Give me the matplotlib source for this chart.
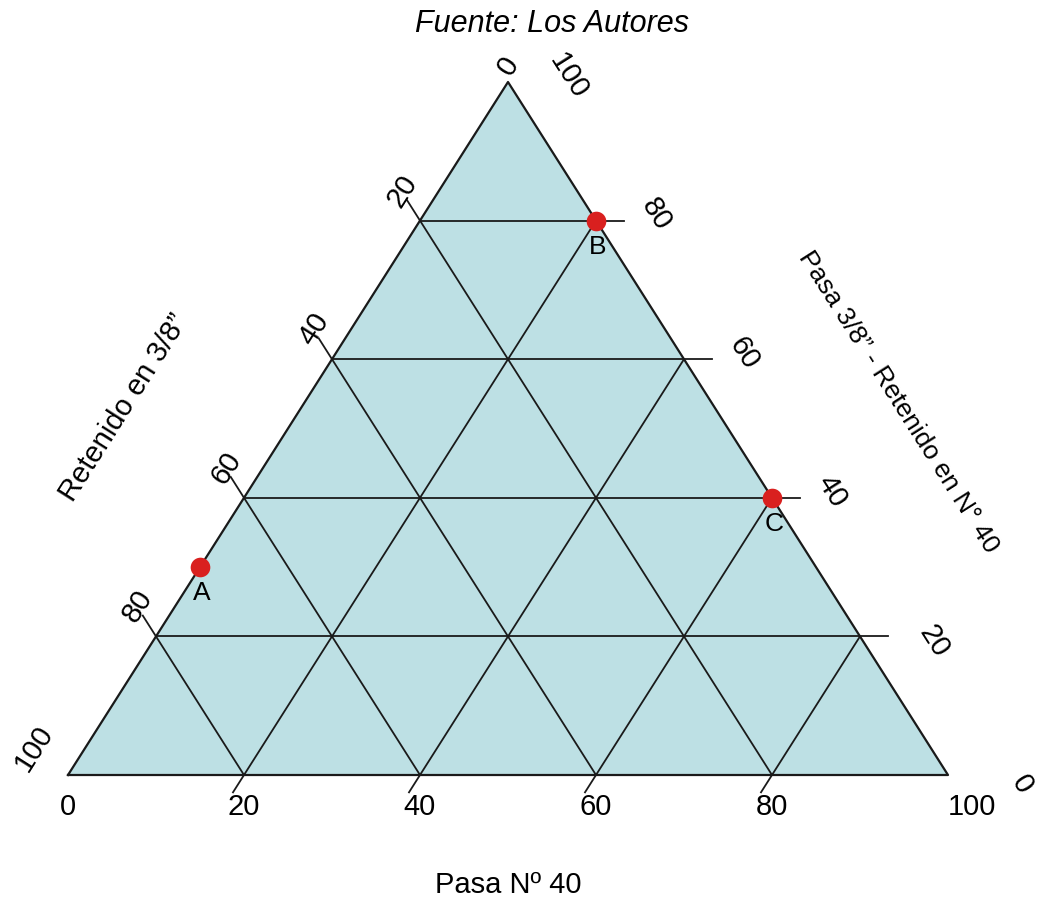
import numpy as np
import matplotlib.pyplot as plt

plt.rcParams['font.family'] = ['Liberation Sans', 'DejaVu Sans']

# ternary data: a = Pasa N 40, b = Pasa 3/8" - Retenido N 40, c = Retenido 3/8"
point_names = ['A', 'B', 'C']
pasa_n40 = [0, 20, 60]
pasa38_ret40 = [30, 80, 40]
retenido38 = [70, 0, 0]

grid_vals = [20, 40, 60, 80]
tick_vals = [0, 20, 40, 60, 80, 100]

fill_col = '#bde0e4'
line_col = '#1a1a1a'
dot_col = '#d9201f'


def to_xy(a, b):
    # cartesian in axes data units (triangle squashed by the axes box)
    a = np.asarray(a, dtype=float)
    b = np.asarray(b, dtype=float)
    return a + b / 2.0, b


fig = plt.figure(figsize=(10.4, 9.24), dpi=100)
ax = fig.add_axes([68 / 1040, 149 / 924, 880 / 1040, 693 / 924])
ax.set_xlim(0, 100)
ax.set_ylim(0, 100)
ax.axis('off')

# triangle
tx, ty = to_xy([0, 100, 0, 0], [0, 0, 100, 0])
ax.fill(tx, ty, color=fill_col, zorder=1, clip_on=False)
ax.plot(tx, ty, color=line_col, lw=1.6, zorder=3, clip_on=False)

lw = 1.3
for v in grid_vals:
    # constant b (horizontal), stub past right edge
    x0, y0 = to_xy(0, v)
    x1, y1 = to_xy(100 - v, v)
    ax.plot([x0, x1 + 3.2], [y0, y1], color=line_col, lw=lw, zorder=2, clip_on=False)
    # constant c (parallel to right edge), stub past left edge
    s = 100 - v
    xa, ya = to_xy(-3, s + 3)
    xb, yb = to_xy(s, 0)
    ax.plot([xa, xb], [ya, yb], color=line_col, lw=lw, zorder=2, clip_on=False)
    # constant a (parallel to left edge), stub below bottom
    xb, yb = to_xy(v, 100 - v)
    ax.plot([v - 1.25, xb], [-2.5, yb], color=line_col, lw=lw, zorder=2, clip_on=False)

ang = np.degrees(np.arctan2(693, 440))
fs = 21

# bottom ticks (Pasa N 40)
for v in tick_vals:
    x, y = to_xy(v, 0)
    dx = 24 if v == 100 else 0
    ax.annotate(str(v), (x, y), xytext=(dx, -32), textcoords='offset pixels',
                ha='center', va='center', fontsize=fs, annotation_clip=False)

# right ticks (Pasa 3/8 - Retenido N 40)
for v in tick_vals:
    x, y = to_xy(100 - v, v)
    off = (60, 6)
    if v == 20:
        off = (74, -5)
    if v == 0:
        off = (74, -10)
    ax.annotate(str(v), (x, y), xytext=off, textcoords='offset pixels',
                ha='center', va='center', fontsize=fs, rotation=-ang,
                annotation_clip=False)

# left ticks (Retenido 3/8)
for v in tick_vals:
    x, y = to_xy(0, 100 - v)
    off = (-18, 30)
    if v == 0:
        off = (0, 16)
    if v == 100:
        off = (-34, 27)
    ax.annotate(str(v), (x, y), xytext=off, textcoords='offset pixels',
                ha='center', va='center', fontsize=fs, rotation=ang,
                annotation_clip=False)

# points
px, py = to_xy(pasa_n40, pasa38_ret40)
ax.scatter(px, py, s=200, color=dot_col, zorder=5, clip_on=False, linewidths=0)
for name, x, y in zip(point_names, px, py):
    ax.annotate(name, (x, y), xytext=(2, -26), textcoords='offset pixels',
                ha='center', va='center', fontsize=19, annotation_clip=False)

fig.text(124 / 1040, 1 - 408 / 924, 'Retenido en 3/8\u201d', rotation=ang,
         ha='center', va='center', fontsize=fs)
fig.text(898 / 1040, 1 - 402 / 924, 'Pasa 3/8\u201d - Retenido en N\u00b0 40',
         rotation=-ang, ha='center', va='center', fontsize=19)
fig.text(508 / 1040, 1 - 885 / 924, 'Pasa N\u00ba 40', ha='center', va='center',
         fontsize=fs)
fig.text(552 / 1040, 1 - 24 / 924, 'Fuente: Los Autores', ha='center',
         va='center', fontsize=22, style='italic')

fig.savefig('out.png', dpi=100)
